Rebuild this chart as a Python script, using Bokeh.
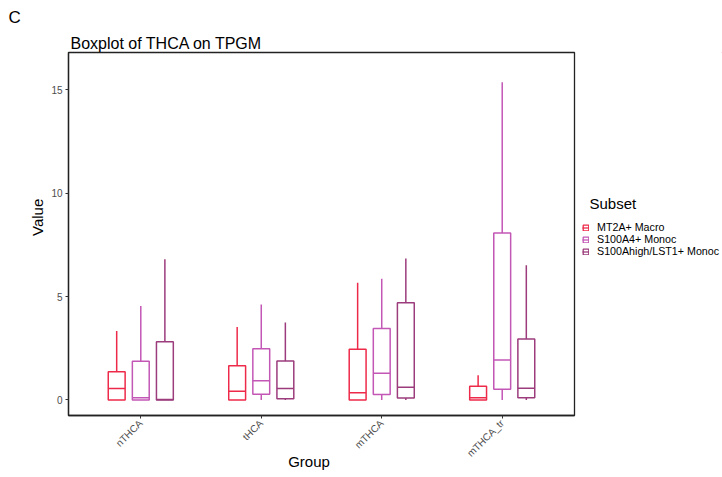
import math
from bokeh.plotting import figure
from bokeh.layouts import row
from bokeh.models import (ColumnDataSource, FactorRange, Range1d, Legend, LegendItem,
                          FixedTicker, Label, Title)
from bokeh.transform import dodge
from bokeh.embed import file_html
from bokeh.resources import INLINE

groups = ["nTHCA", "tHCA", "mTHCA", "mTHCA_tr"]
subsets = ["MT2A+ Macro", "S100A4+ Monoc", "S100Ahigh/LST1+ Monoc"]
colors = ["#EE2A4A", "#C357B6", "#9C3C7C"]

# per subset: values for each group
lower = {
    "MT2A+ Macro":           [0.0, 0.0, 0.0, 0.0],
    "S100A4+ Monoc":         [0.0, 0.0, 0.0, 0.0],
    "S100Ahigh/LST1+ Monoc": [0.0, 0.0, 0.0, 0.0],
}
q1 = {
    "MT2A+ Macro":           [0.0, 0.0, 0.0, 0.0],
    "S100A4+ Monoc":         [0.0, 0.28, 0.26, 0.52],
    "S100Ahigh/LST1+ Monoc": [0.0, 0.06, 0.10, 0.11],
}
median = {
    "MT2A+ Macro":           [0.56, 0.42, 0.35, 0.11],
    "S100A4+ Monoc":         [0.11, 0.93, 1.29, 1.93],
    "S100Ahigh/LST1+ Monoc": [0.02, 0.55, 0.61, 0.57],
}
q3 = {
    "MT2A+ Macro":           [1.37, 1.66, 2.45, 0.66],
    "S100A4+ Monoc":         [1.87, 2.48, 3.46, 8.07],
    "S100Ahigh/LST1+ Monoc": [2.82, 1.88, 4.70, 2.95],
}
upper = {
    "MT2A+ Macro":           [3.33, 3.53, 5.67, 1.19],
    "S100A4+ Monoc":         [4.54, 4.62, 5.86, 15.36],
    "S100Ahigh/LST1+ Monoc": [6.81, 3.75, 6.84, 6.51],
}
y_ticks = [0, 5, 10, 15]

FONT = "Liberation Sans"
NB = "\u00a0"

p = figure(frame_width=506, frame_height=363, title=None,
           x_range=FactorRange(factors=groups, range_padding=0.05),
           y_range=Range1d(-0.75, 16.8),
           output_backend="svg", toolbar_location=None,
           min_border_left=68, min_border_right=2,
           min_border_top=52, min_border_bottom=62)

p.add_layout(Title(text="Boxplot of THCA on TPGM", text_font=FONT, text_font_size="16px",
                   text_font_style="normal", text_color="black", offset=2, standoff=2),
             "above")
p.add_layout(Title(text="C", text_font=FONT, text_font_size="17px",
                   text_font_style="normal", text_color="black", offset=-60, standoff=9),
             "above")

p.xgrid.visible = False
p.ygrid.visible = False
p.outline_line_color = "#222222"
p.outline_line_width = 1.3
p.background_fill_color = "white"
p.border_fill_color = "white"

for ax in (p.xaxis[0], p.yaxis[0]):
    ax.axis_line_color = "#222222"
    ax.axis_line_width = 1.3
    ax.major_tick_line_color = "#333333"
    ax.major_tick_out = 3
    ax.major_tick_in = 0
    ax.minor_tick_line_color = None
    ax.major_label_text_font = FONT
    ax.major_label_text_font_size = "10px"
    ax.major_label_text_color = "#4D4D4D"
    ax.axis_label_text_font = FONT
    ax.axis_label_text_font_size = "15px"
    ax.axis_label_text_font_style = "normal"
    ax.axis_label_text_color = "black"

p.yaxis.ticker = FixedTicker(ticks=y_ticks)
p.yaxis.axis_label = NB * 8 + "Value"
p.yaxis.major_label_standoff = 3
p.yaxis.axis_label_standoff = 2
p.xaxis.axis_label = "Group" + NB * 6
p.xaxis.major_label_orientation = math.pi / 4
p.xaxis.major_label_standoff = 3
p.xaxis.axis_label_standoff = -13

offsets = [-0.2, 0.0, 0.2]
bw = 0.14
for s, c, off in zip(subsets, colors, offsets):
    src = ColumnDataSource(dict(group=groups, lower=lower[s], q1=q1[s],
                                med=median[s], q3=q3[s], upper=upper[s]))
    xc = dodge("group", off, range=p.x_range)
    xl = dodge("group", off - bw / 2, range=p.x_range)
    xr = dodge("group", off + bw / 2, range=p.x_range)
    p.segment(x0=xc, y0="q3", x1=xc, y1="upper", source=src, line_color=c, line_width=1.5)
    p.segment(x0=xc, y0="lower", x1=xc, y1="q1", source=src, line_color=c, line_width=1.5)
    p.vbar(x=xc, width=bw, top="q3", bottom="q1", source=src,
           fill_color="white", line_color=c, line_width=1.5)
    p.segment(x0=xl, y0="med", x1=xr, y1="med", source=src, line_color=c, line_width=1.5)

# legend panel (frame aligned with main plot's frame)
lg = figure(width=146, height=477, x_range=Range1d(0, 1), y_range=Range1d(0, 1),
            x_axis_type=None, y_axis_type=None, output_backend="svg",
            toolbar_location=None, min_border=0)
lg.outline_line_color = None
lg.xgrid.visible = False
lg.ygrid.visible = False
items = []
for s, c in zip(subsets, colors):
    r1 = lg.vbar(x=[5], top=[5], bottom=[4], width=0.1, fill_color="white",
                 line_color=c, line_width=1.3)
    r2 = lg.line(x=[5, 6], y=[5, 5], line_color=c, line_width=1.3)
    items.append(LegendItem(label=s, renderers=[r1, r2]))
legend = Legend(items=items,
                label_text_font=FONT, label_text_font_size="10.7px",
                label_text_color="black",
                glyph_width=7, glyph_height=7, label_height=11,
                label_standoff=8, spacing=0, padding=0, margin=0,
                border_line_color=None, background_fill_alpha=0,
                location=(6, 158))
lg.add_layout(legend)
lg.add_layout(Label(x=13, y=221, x_units="screen", y_units="screen", text="Subset",
                    text_font=FONT, text_font_size="15px", text_baseline="top",
                    text_color="black"))

layout = row(p, lg, spacing=0)
open("out.html", "w").write(file_html(layout, INLINE))
